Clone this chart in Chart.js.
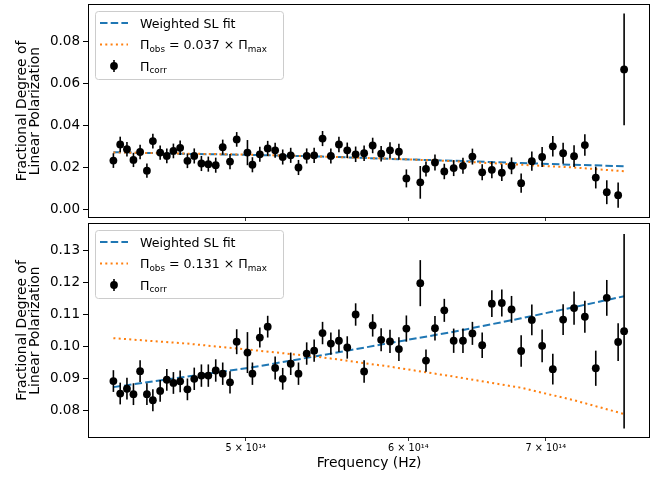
<!DOCTYPE html>
<html>
<head>
<meta charset="utf-8">
<script src="https://cdn.jsdelivr.net/npm/chart.js@4.4.1/dist/chart.umd.min.js"></script>
<style>
  body { margin: 0; background: #fff; }
  #wrap { position: relative; width: 667px; height: 479px; }
  canvas { position: absolute; left: 0; }
  #top-chart { top: 0; }
  #bottom-chart { top: 219px; }
</style>
</head>
<body>
<div id="wrap">
  <canvas id="top-chart" width="667" height="222"></canvas>
  <canvas id="bottom-chart" width="667" height="260"></canvas>
</div>
<script>
const FONT = 'DejaVu Sans';
const BLUE = '#1f77b4';
const ORANGE = '#ff7f0e';

// bin centres, units of 1e14 Hz
const freq = [
  4.311, 4.344, 4.377, 4.409, 4.442, 4.476, 4.506, 4.543, 4.577, 4.611,
  4.646, 4.684, 4.720, 4.758, 4.795, 4.835, 4.873, 4.913, 4.950, 5.010,
  5.038, 5.080, 5.125, 5.168, 5.212, 5.259, 5.305, 5.354, 5.399, 5.450,
  5.501, 5.551, 5.603, 5.656, 5.710, 5.765, 5.820, 5.878, 5.937, 5.987,
  6.081, 6.120, 6.182, 6.247, 6.313, 6.379, 6.447, 6.518, 6.589, 6.663,
  6.736, 6.809, 6.891, 6.971, 7.055, 7.137, 7.225, 7.313, 7.403, 7.495,
  7.591, 7.642
];

// upper panel: corrected polarization and its errors
const piTop = [
  0.0232, 0.0309, 0.0286, 0.0235, 0.0273, 0.0184, 0.0325, 0.0270, 0.0254, 0.0278,
  0.0293, 0.0231, 0.0254, 0.0218, 0.0215, 0.0210, 0.0296, 0.0227, 0.0333, 0.0270,
  0.0212, 0.0262, 0.0290, 0.0281, 0.0249, 0.0257, 0.0199, 0.0254, 0.0257, 0.0337,
  0.0254, 0.0309, 0.0281, 0.0262, 0.0267, 0.0304, 0.0265, 0.0281, 0.0274, 0.0147,
  0.0128, 0.0192, 0.0223, 0.0180, 0.0196, 0.0207, 0.0251, 0.0176, 0.0188, 0.0174,
  0.0207, 0.0124, 0.0229, 0.0249, 0.0300, 0.0267, 0.0253, 0.0306, 0.0151, 0.0081,
  0.0067, 0.0667
];
const errTop = [
  0.0035, 0.0037, 0.0035, 0.0034, 0.0035, 0.0034, 0.0035, 0.0034, 0.0035, 0.0035,
  0.0035, 0.0035, 0.0036, 0.0036, 0.0036, 0.0036, 0.0036, 0.0036, 0.0035, 0.0060,
  0.0036, 0.0036, 0.0036, 0.0036, 0.0036, 0.0036, 0.0036, 0.0036, 0.0036, 0.0036,
  0.0036, 0.0037, 0.0037, 0.0037, 0.0037, 0.0037, 0.0037, 0.0038, 0.0038, 0.0043,
  0.0078, 0.0036, 0.0038, 0.0037, 0.0038, 0.0038, 0.0038, 0.0038, 0.0040, 0.0040,
  0.0040, 0.0046, 0.0046, 0.0048, 0.0049, 0.0050, 0.0052, 0.0051, 0.0052, 0.0057,
  0.0060, 0.0267
];

// lower panel
const piBottom = [
  0.0891, 0.0852, 0.0867, 0.0850, 0.0922, 0.0850, 0.0831, 0.0860, 0.0895, 0.0885,
  0.0890, 0.0865, 0.0898, 0.0908, 0.0908, 0.0924, 0.0914, 0.0887, 0.1014, 0.0980,
  0.0914, 0.1027, 0.1061, 0.0932, 0.0898, 0.0945, 0.0914, 0.0977, 0.0986, 0.1041,
  0.1008, 0.1017, 0.0996, 0.1099, 0.0921, 0.1065, 0.1020, 0.1015, 0.0991, 0.1055,
  0.1197, 0.0955, 0.1056, 0.1112, 0.1017, 0.1017, 0.1040, 0.1003, 0.1133, 0.1135,
  0.1115, 0.0985, 0.1082, 0.1001, 0.0928, 0.1083, 0.1119, 0.1092, 0.0931, 0.1151,
  0.1013, 0.1047
];
const errBottom = [
  0.0034, 0.0034, 0.0034, 0.0034, 0.0034, 0.0034, 0.0034, 0.0034, 0.0034, 0.0034,
  0.0034, 0.0034, 0.0035, 0.0035, 0.0035, 0.0035, 0.0035, 0.0035, 0.0039, 0.0064,
  0.0035, 0.0031, 0.0034, 0.0036, 0.0034, 0.0035, 0.0035, 0.0035, 0.0035, 0.0035,
  0.0035, 0.0035, 0.0035, 0.0035, 0.0035, 0.0035, 0.0036, 0.0036, 0.0037, 0.0041,
  0.0072, 0.0035, 0.0038, 0.0036, 0.0038, 0.0038, 0.0036, 0.0040, 0.0042, 0.0042,
  0.0042, 0.0049, 0.0048, 0.0051, 0.0048, 0.0048, 0.0052, 0.0050, 0.0055, 0.0056,
  0.0059, 0.0304
];

// model curves sampled along the band
const curveFreq = [4.311, 4.684, 5.038, 5.450, 5.878, 6.313, 6.809, 7.225, 7.642];
const fitTop = [0.0272, 0.0264, 0.0259, 0.0251, 0.0240, 0.0231, 0.0220, 0.0212, 0.0205];
const obsTop = [0.0271, 0.0265, 0.0260, 0.0251, 0.0241, 0.0229, 0.0212, 0.0199, 0.0181];
const fitBottom = [0.0872, 0.0905, 0.0934, 0.0972, 0.1010, 0.1045, 0.1087, 0.1122, 0.1156];
const obsBottom = [0.1025, 0.1008, 0.0988, 0.0965, 0.0936, 0.0905, 0.0870, 0.0831, 0.0788];

const ratioTop = '0.037';
const ratioBottom = '0.131';

const xTicks = [5e14, 6e14, 7e14];
const xTickLabels = ['5 × 10¹⁴', '6 × 10¹⁴', '7 × 10¹⁴'];
const yTicksTop = [0, 0.02, 0.04, 0.06, 0.08];
const yTicksBottom = [0.08, 0.09, 0.10, 0.11, 0.12, 0.13];

const X_MIN = 4.19e14, X_MAX = 7.867e14;

const toPoints = (xs, ys) => xs.map((x, i) => ({ x: x * 1e14, y: ys[i] }));

// vertical error bars, drawn just before the markers
function errorBars(errors) {
  return {
    id: 'errorBars',
    beforeDatasetDraw(chart, args) {
      if (args.index !== 2) return;
      const { ctx, chartArea: a } = chart;
      const xs = chart.scales.x, ys = chart.scales.y;
      ctx.save();
      ctx.beginPath();
      ctx.rect(a.left, a.top, a.right - a.left, a.bottom - a.top);
      ctx.clip();
      ctx.strokeStyle = '#000';
      ctx.lineWidth = 1.6;
      chart.data.datasets[2].data.forEach((p, i) => {
        const px = xs.getPixelForValue(p.x);
        ctx.beginPath();
        ctx.moveTo(px, ys.getPixelForValue(p.y - errors[i]));
        ctx.lineTo(px, ys.getPixelForValue(p.y + errors[i]));
        ctx.stroke();
      });
      ctx.restore();
    }
  };
}

// text with subscripts, parts = [[text, isSub], ...]
function drawRich(ctx, parts, x, y, size) {
  parts.forEach(([t, sub]) => {
    const s = sub ? size * 0.7 : size;
    ctx.font = s + 'px "' + FONT + '"';
    ctx.fillText(t, x, sub ? y + size * 0.2 : y);
    x += ctx.measureText(t).width;
  });
}

// box round the axes plus the legend in the upper left
function frameAndLegend(ratio) {
  return {
    id: 'frameAndLegend',
    afterDraw(chart) {
      const { ctx, chartArea: a } = chart;
      ctx.save();
      ctx.strokeStyle = '#000';
      ctx.lineWidth = 1;
      ctx.strokeRect(a.left + 0.5, a.top + 0.5, a.right - a.left - 1, a.bottom - a.top - 1);

      const bx = a.left + 7, by = a.top + 7, bw = 188, bh = 68;
      ctx.beginPath();
      ctx.roundRect(bx + 0.5, by + 0.5, bw, bh, 3);
      ctx.fillStyle = 'rgba(255,255,255,0.8)';
      ctx.fill();
      ctx.strokeStyle = '#cccccc';
      ctx.stroke();

      const rows = [by + 12, by + 33.5, by + 55];
      const sx0 = bx + 5, sx1 = bx + 33, tx = bx + 45, fs = 12.6;

      ctx.lineWidth = 2;
      ctx.strokeStyle = BLUE;
      ctx.setLineDash([7.5, 3.2]);
      ctx.beginPath(); ctx.moveTo(sx0, rows[0]); ctx.lineTo(sx1, rows[0]); ctx.stroke();
      ctx.strokeStyle = ORANGE;
      ctx.setLineDash([2, 3.3]);
      ctx.beginPath(); ctx.moveTo(sx0, rows[1]); ctx.lineTo(sx1, rows[1]); ctx.stroke();
      ctx.setLineDash([]);

      const mx = (sx0 + sx1) / 2;
      ctx.strokeStyle = '#000';
      ctx.lineWidth = 1.6;
      ctx.beginPath(); ctx.moveTo(mx, rows[2] - 6); ctx.lineTo(mx, rows[2] + 6); ctx.stroke();
      ctx.fillStyle = '#000';
      ctx.beginPath(); ctx.arc(mx, rows[2], 3.9, 0, Math.PI * 2); ctx.fill();

      ctx.textBaseline = 'alphabetic';
      ctx.textAlign = 'left';
      const base = fs * 0.36;
      drawRich(ctx, [['Weighted SL fit', false]], tx, rows[0] + base, fs);
      drawRich(ctx, [['Π', false], ['obs', true], [' = ' + ratio + ' × Π', false], ['max', true]], tx, rows[1] + base, fs);
      drawRich(ctx, [['Π', false], ['corr', true]], tx, rows[2] + base, fs);
      ctx.restore();
    }
  };
}

function makePanel(canvasId, opts) {
  const xScale = {
    type: 'logarithmic',
    min: X_MIN,
    max: X_MAX,
    bounds: 'data',
    afterBuildTicks: s => { s.ticks = xTicks.map(v => ({ value: v })); },
    afterFit: s => { s.height = opts.xHeight; s.paddingLeft = 0; s.paddingRight = 0; },
    grid: { drawOnChartArea: false, drawTicks: true, tickLength: 3, color: '#000', lineWidth: 0.8 },
    border: { display: false },
    ticks: {
      display: opts.showX,
      autoSkip: false,
      maxRotation: 0,
      padding: 2,
      color: '#000',
      font: { family: FONT, size: 9.7 },
      callback: v => xTickLabels[xTicks.indexOf(v)]
    },
    title: {
      display: opts.showX,
      text: 'Frequency (Hz)',
      color: '#000',
      font: { family: FONT, size: 13.9 },
      padding: { top: 0, bottom: 7.5 }
    }
  };
  const yScale = {
    type: 'linear',
    min: opts.yMin,
    max: opts.yMax,
    bounds: 'data',
    afterBuildTicks: s => { s.ticks = opts.yTicks.map(v => ({ value: v })); },
    // fixed axis width, and no extra room reserved for the end labels
    afterFit: s => { s.width = 88; s.paddingTop = 0; s.paddingBottom = 0; },
    grid: { drawOnChartArea: false, drawTicks: true, tickLength: 5, color: '#000', lineWidth: 1 },
    border: { display: false },
    ticks: {
      autoSkip: false,
      padding: 3,
      color: '#000',
      font: { family: FONT, size: 13.5 },
      callback: v => v.toFixed(2)
    },
    title: {
      display: true,
      text: ['Fractional Degree of', 'Linear Polarization'],
      color: '#000',
      font: { family: FONT, size: 13.9, lineHeight: '13px' },
      padding: { top: 16, bottom: 0 }
    }
  };

  return new Chart(document.getElementById(canvasId), {
    type: 'scatter',
    data: {
      datasets: [{
        label: 'Weighted SL fit',
        data: toPoints(curveFreq, opts.fit),
        showLine: true,
        pointRadius: 0,
        borderColor: BLUE,
        borderWidth: 2,
        borderDash: [7.5, 3.2],
        order: 2
      }, {
        label: 'Pi_obs',
        data: toPoints(curveFreq, opts.obs),
        showLine: true,
        pointRadius: 0,
        borderColor: ORANGE,
        borderWidth: 2,
        borderDash: [2, 3.3],
        order: 1
      }, {
        label: 'Pi_corr',
        data: toPoints(freq, opts.pi),
        showLine: false,
        pointRadius: 3.9,
        pointBackgroundColor: '#000',
        pointBorderWidth: 0,
        order: 0
      }]
    },
    options: {
      responsive: false,
      animation: false,
      devicePixelRatio: 1,
      layout: { padding: { left: 0, right: 17, top: opts.padTop, bottom: 0 } },
      plugins: { legend: { display: false }, tooltip: { enabled: false } },
      scales: { x: xScale, y: yScale }
    },
    plugins: [errorBars(opts.err), frameAndLegend(opts.ratio)]
  });
}

makePanel('top-chart', {
  pi: piTop, err: errTop, fit: fitTop, obs: obsTop, ratio: ratioTop,
  yMin: -0.0042, yMax: 0.0979, yTicks: yTicksTop,
  padTop: 1, xHeight: 4, showX: false
});

makePanel('bottom-chart', {
  pi: piBottom, err: errBottom, fit: fitBottom, obs: obsBottom, ratio: ratioBottom,
  yMin: 0.0713, yMax: 0.1385, yTicks: yTicksBottom,
  padTop: 2, xHeight: 41, showX: true
});
</script>
</body>
</html>
